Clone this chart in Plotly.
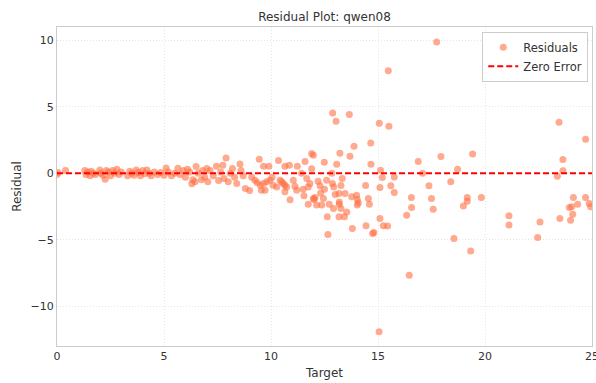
import plotly.graph_objects as go

# Residuals (prediction - target) for the qwen08 model
target = [
    0.0, 0.05, 0.4, 1.3, 1.35, 1.45, 1.55, 1.6, 1.7, 1.8, 2.0, 2.05, 2.15, 2.25, 2.3, 2.4, 2.5, 2.6,
    2.7, 2.8, 2.9, 3.0, 3.3, 3.4, 3.5, 3.6, 3.7, 3.8, 3.9, 4.0, 4.1, 4.2, 4.3, 4.4, 4.55, 4.7, 4.85,
    5.0, 5.1, 5.2, 5.35, 5.5, 5.65, 5.75, 5.9, 6.0, 6.1, 6.2, 6.3, 6.35, 6.45, 6.5, 6.6, 6.75, 6.8,
    6.9, 7.0, 7.05, 7.15, 7.3, 7.45, 7.55, 7.65, 7.75, 7.8, 7.9, 8.0, 8.1, 8.2, 8.3, 8.4, 8.55, 8.6,
    8.7, 8.8, 9.0, 9.1, 9.25, 9.35, 9.45, 9.5, 9.55, 9.65, 9.65, 9.72, 9.8, 9.9, 9.95, 10.05, 10.1,
    10.27, 10.35, 10.42, 10.5, 10.57, 10.65, 10.65, 10.65, 10.73, 10.86, 10.89, 11.04, 11.12, 11.2,
    11.23, 11.43, 11.5, 11.54, 11.59, 11.67, 11.74, 11.74, 11.82, 11.9, 11.9, 11.98, 11.98, 12.01,
    12.06, 12.13, 12.2, 12.29, 12.32, 12.37, 12.45, 12.49, 12.5, 12.6, 12.63, 12.66, 12.72, 12.84,
    12.87, 12.88, 12.92, 12.93, 13.0, 13.04, 13.07, 13.18, 13.18, 13.19, 13.19, 13.22, 13.27, 13.27,
    13.33, 13.43, 13.46, 13.54, 13.66, 13.69, 13.77, 13.8, 13.88, 14.0, 14.03, 14.03, 14.08, 14.42,
    14.44, 14.55, 14.6, 14.66, 14.67, 14.75, 14.81, 15.05, 15.06, 15.09, 15.09, 15.12, 15.2, 15.25,
    15.45, 15.48, 15.51, 15.6, 15.76, 15.76, 16.34, 16.46, 16.56, 16.57, 16.88, 17.08, 17.38, 17.5,
    17.58, 17.74, 17.94, 18.4, 18.55, 18.72, 18.99, 19.17, 19.17, 19.33, 19.42, 19.83, 21.12, 21.12,
    22.46, 22.57, 23.38, 23.46, 23.5, 23.64, 23.64, 23.94, 24.0, 24.05, 24.1, 24.13, 24.33, 24.7,
    24.7, 24.87, 24.94,
]
residual = [
    -0.1, 0.05, 0.2, 0.2, -0.1, 0.1, -0.2, 0.15, 0.0, -0.1, 0.25, 0.0, -0.15, -0.45, 0.2, 0.1, -0.2, 0.2,
    0.0, 0.3, -0.1, 0.1, -0.2, 0.15, 0.0, -0.15, 0.25, 0.05, -0.2, 0.2, -0.05, 0.25, 0.0, -0.2, 0.1, -0.1, 0.05,
    -0.15, 0.4, 0.1, -0.2, 0.0, 0.37, -0.1, 0.2, -0.3, 0.3, 0.1, -0.8, -0.5, -0.65, 0.5, 0.0, -0.5, 0.2,
    -0.3, 0.35, -0.65, 0.2, -0.2, 0.53, -0.55, 0.1, 0.6, -0.4, 1.15, -0.65, 0.0, 0.35, -0.3, -0.78, 0.7, 0.2,
    -0.2, -1.15, -1.3, -0.3, -0.53, -0.7, 1.05, -0.9, -1.28, 0.53, -0.78, -1.28, -0.65, 0.53, -0.53, -0.3, -0.9,
    -1.03, 0.95, -0.53, -0.65, -0.78, 0.53, -0.9, -1.4, -1.03, 0.6, -2.0, -0.53, -0.98, -1.28,
    0.53, 0.0, -1.2, -1.7, 0.88, -0.4, -1.03, -2.33, -0.78, 1.48, 0.33, 1.35, -1.9, -1.98,
    -1.83, -2.4, -0.6, -0.95, -1.48, -2.4, -1.9, 0.83, -1.2, -0.53, -3.28, -4.61, -2.33, 0.0,
    -0.77, 4.53, -2.65, -1.03, -1.6, 3.91, 0.68, -1.53, -3.28, -2.16, -2.33, 1.5, -0.93, -2.65,
    -0.4, -3.28, -1.53, -2.91, 4.41, 1.28, -1.78, -4.16, 2.03, -1.65, -1.98, -2.4, -2.23, -0.93,
    -3.96, -1.9, -2.33, 2.28, 0.68, -4.54, -4.46, -11.93, 3.76, -1.08, -3.41, 0.23, -0.33, -3.96,
    -3.98, 7.7, 3.53, -0.95, -0.28, -1.45, -3.16, -7.67, -1.83, -2.58, 0.88, 0.0, -0.95, -1.9,
    -2.71, 9.87, 1.25, -0.65, -4.91, 0.3, -2.46, -1.83, -2.11, -5.86, 1.45, -1.83, -3.21, -3.89,
    -4.84, -3.68, -0.22, 3.83, -3.41, 1.03, 0.18, -2.58, -3.53, -2.53, -3.08, -1.83, -2.33, 2.56,
    -1.83, -2.28, -2.53,
]

x_ticks = [0, 5, 10, 15, 20, 25]
y_ticks = [-10, -5, 0, 5, 10]
x_range = [0, 25]
y_range = [-13, 11]

font_family = "DejaVu Sans"
text_color = "#333333"
spine_color = "#cccccc"
grid_color = "#e6e6e6"

fig = go.Figure()

fig.add_trace(go.Scatter(
    x=target,
    y=residual,
    mode="markers",
    name="Residuals",
    marker=dict(color="#FF7043", size=7, opacity=0.6, line=dict(width=0)),
))

# Horizontal reference line at zero residual
fig.add_trace(go.Scatter(
    x=x_range,
    y=[0, 0],
    mode="lines",
    name="Zero Error",
    line=dict(color="red", width=2, dash="6px,3px"),
))

axis_common = dict(
    showline=True,
    mirror=True,
    linecolor=spine_color,
    linewidth=1,
    showgrid=True,
    gridcolor=grid_color,
    griddash="1px,2px",
    gridwidth=1,
    zeroline=False,
    ticks="",
    automargin=False,
    ticklabeloverflow="allow",
    tickfont=dict(family=font_family, size=11, color=text_color),
)

fig.update_layout(
    width=596,
    height=383,
    margin=dict(l=57, r=4, t=27, b=37),
    paper_bgcolor="white",
    plot_bgcolor="white",
    font=dict(family=font_family, color=text_color),
    title=dict(
        text="Residual Plot: qwen08",
        xref="paper", x=0.5, xanchor="center",
        y=0.955, yanchor="middle",
        font=dict(family=font_family, size=12, color=text_color),
    ),
    xaxis=dict(
        range=x_range,
        tickvals=x_ticks,
        title=dict(text="Target", font=dict(family=font_family, size=12, color=text_color), standoff=6),
        **axis_common,
    ),
    yaxis=dict(
        range=y_range,
        tickvals=y_ticks,
        title=dict(text="Residual", font=dict(family=font_family, size=12, color=text_color), standoff=6),
        **axis_common,
    ),
    legend=dict(
        x=0.993, y=0.985, xanchor="right", yanchor="top",
        bgcolor="rgba(255,255,255,0.85)",
        bordercolor=spine_color,
        borderwidth=1,
        font=dict(family=font_family, size=11.5, color=text_color),
        tracegroupgap=0,
        itemwidth=30,
    ),
    showlegend=True,
)

fig.write_html("out.html")
